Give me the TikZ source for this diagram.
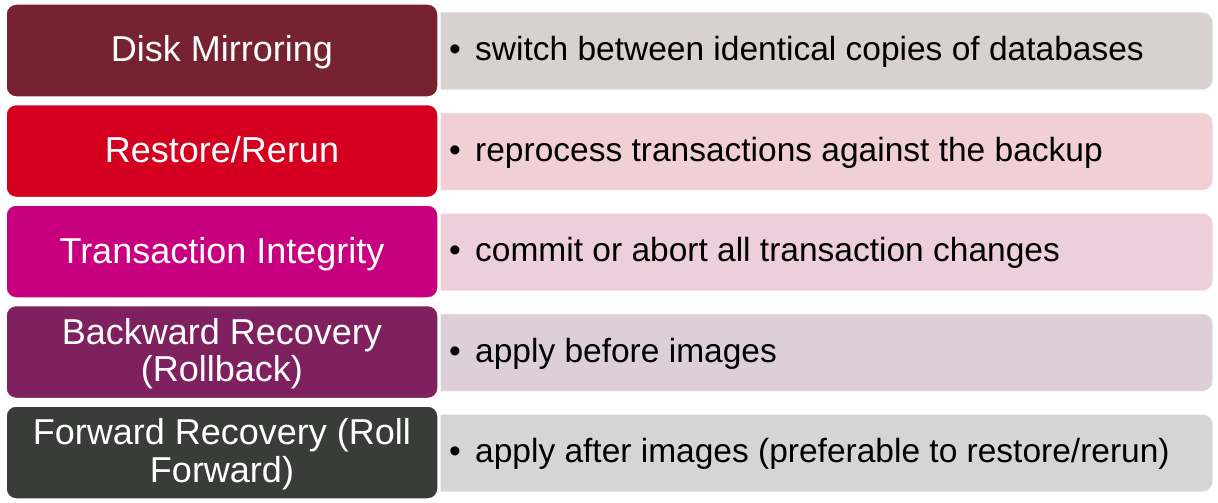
\documentclass[tikz,border=0pt]{standalone}
\usepackage{fontspec}
\setmainfont{Liberation Sans}
\definecolor{cA}{HTML}{772230}
\definecolor{cB}{HTML}{D5001F}
\definecolor{cC}{HTML}{C8007F}
\definecolor{cD}{HTML}{80215F}
\definecolor{cE}{HTML}{3A3C3A}
\definecolor{lA}{HTML}{D9D0D0}
\definecolor{lB}{HTML}{F0D0D3}
\definecolor{lC}{HTML}{EDCFDB}
\definecolor{lD}{HTML}{DDCFD7}
\definecolor{lE}{HTML}{D5D5D5}
\tikzset{
  titlebox/.style={rounded corners=10pt, draw=white, line width=1.5pt,
    minimum width=432pt, minimum height=93pt, inner sep=0pt},
  titletext/.style={anchor=base, inner sep=0pt, text=white, align=center,
    font=\fontsize{36}{37.4}\selectfont},
  bodypanel/.style={draw=white, draw opacity=0.7, line width=1.5pt},
  bodytext/.style={anchor=base west, inner sep=0pt, text=black,
    font=\fontsize{33.5}{38}\selectfont},
  bullet/.style={anchor=base, inner sep=0pt, text=black,
    font=\fontsize{33.5}{38}\selectfont}
}
% one row of the list: light panel with a bullet line, dark rounded title box
\newcommand{\listrow}[5]{%
  % #1 name, #2 row centre y, #3 dark colour, #4 light colour, #5 body text
  \path[bodypanel, fill=#4]
    (800,#2-39) [rounded corners=10pt] -- (1213,#2-39) -- (1213,#2+39)
    -- (800,#2+39) [sharp corners] -- (440,#2+39) -- (440,#2-39) -- cycle;
  \node[bullet] (#1bul) at (455,#2+9.5) {•};
  \node[bodytext] (#1txt) at (475,#2+9.5) {#5};
  \node[titlebox, fill=#3] (#1box) at (222,#2-0.5) {};
}
\begin{document}
\begin{tikzpicture}[x=1pt,y=-1pt]
\useasboundingbox (0,0) rectangle (1218,503);

\listrow{r1}{51}{cA}{lA}{switch between identical copies of databases}
\listrow{r2}{151.5}{cB}{lB}{reprocess transactions against the backup}
\listrow{r3}{252}{cC}{lC}{commit or abort all transaction changes}
\listrow{r4}{352.5}{cD}{lD}{apply before images}
\listrow{r5}{453}{cE}{lE}{apply after images (preferable to restore/rerun)}

% titles, placed on the baseline of their last line
\node[titletext] (r1title) at (222,61.8) {Disk Mirroring};
\node[titletext] (r2title) at (222,162.5) {Restore/Rerun};
\node[titletext] (r3title) at (222,263) {Transaction Integrity};
\node[titletext] (r4title) at (222,381.7) {Backward Recovery\\(Rollback)};
\node[titletext] (r5title) at (222,482.2) {Forward Recovery (Roll\\Forward)};
\end{tikzpicture}
\end{document}
